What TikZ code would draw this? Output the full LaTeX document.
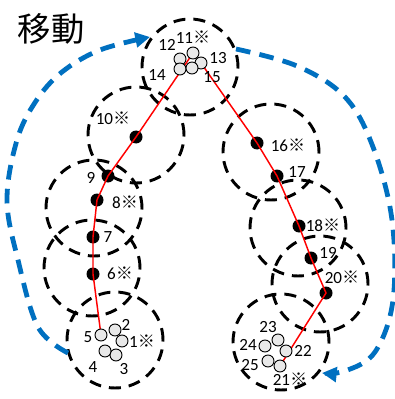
\documentclass[tikz,border=0pt]{standalone}
\usepackage{fontspec}
\setmainfont{Carlito}
\newfontfamily\cjk{Noto Sans CJK JP}
\usetikzlibrary{arrows.meta}
\definecolor{arrowblue}{RGB}{0,112,192}
\definecolor{ballgray}{RGB}{232,232,232}
\newcommand{\kome}{{\cjk ※}}
\begin{document}
\begin{tikzpicture}[x=0.75pt,y=-0.75pt,
  zone/.style={circle, draw=black, line width=2.2pt, dash pattern=on 9pt off 6pt, minimum size=72pt, inner sep=0pt},
  dot/.style={circle, fill=black, minimum size=9.75pt, inner sep=0pt},
  ball/.style={circle, draw=black, fill=ballgray, line width=0.7pt, minimum size=9pt, inner sep=0pt},
  redline/.style={red, line width=1.1pt},
  lbl/.style={font=\fontsize{12.8}{14}\selectfont, inner sep=0pt},
  move/.style={draw=arrowblue, line width=3.6pt, dash pattern=on 11pt off 7pt, -{Triangle[length=11pt,width=11pt]}}
]
\useasboundingbox (0,0) rectangle (395,399);

% title
\node[font=\cjk\fontsize{25}{28}\selectfont, inner sep=0pt] (title) at (51,29) {移動};

% dashed zones
\node[zone] (z1) at (190,67) {};
\node[zone] (z2) at (136,135) {};
\node[zone] (z3) at (94,208) {};
\node[zone] (z4) at (92,268) {};
\node[zone] (z5) at (115,340) {};
\node[zone] (z6) at (271,152) {};
\node[zone] (z7) at (298,228) {};
\node[zone] (z8) at (320,284) {};
\node[zone] (z9) at (281,342) {};

% dots
\node[dot] (d10) at (136,137) {};
\node[dot] (d9) at (108,176) {};
\node[dot] (d8) at (97,200) {};
\node[dot] (d7) at (93,237) {};
\node[dot] (d6) at (93,274) {};
\node[dot] (d16) at (257,143) {};
\node[dot] (d17) at (277,176) {};
\node[dot] (d18) at (299,226) {};
\node[dot] (d19) at (311,258) {};
\node[dot] (d20) at (326,293) {};

% coordinates of balls
\coordinate (p11) at (193,53);
\coordinate (p12) at (180,59);
\coordinate (p13) at (201,63);
\coordinate (p14) at (180,69);
\coordinate (p15) at (192,68);
\coordinate (p1) at (122,341);
\coordinate (p2) at (115,330);
\coordinate (p3) at (116,355);
\coordinate (p4) at (105,351);
\coordinate (p5) at (101,335);
\coordinate (p21) at (280,366);
\coordinate (p22) at (286,351);
\coordinate (p23) at (278,340);
\coordinate (p24) at (265,346);
\coordinate (p25) at (268,361);

% red route
\draw[redline] (p11) -- (d10.center) -- (d9.center) -- (d8.center) -- (d7.center) -- (d6.center) -- (p5);
\draw[redline] (p13) -- (d16.center) -- (d17.center) -- (d18.center) -- (d19.center) -- (d20.center) -- (p21);

% balls
\foreach \n in {11,12,13,14,15,1,2,3,4,5,21,22,23,24,25}
  \node[ball] (b\n) at (p\n) {};

% blue moves
\draw[move] plot[smooth, tension=0.6] coordinates {(68,353) (38,327) (18,260) (7,200) (17,140) (36,101) (62,72) (100,50) (150,37)};
\draw[move] plot[smooth, tension=0.6] coordinates {(236,49) (297,66) (345,97) (373,147) (392,220) (393,300) (375,352) (345,371) (322,373)};

% labels
\node[lbl] (l11) at (193,37) {11\kome};
\node[lbl] (l12) at (167,45) {12};
\node[lbl] (l13) at (218,58) {13};
\node[lbl] (l14) at (157,75) {14};
\node[lbl] (l15) at (212,77) {15};
\node[lbl] (l10) at (113,118) {10\kome};
\node[lbl] (l9) at (91,178) {9};
\node[lbl] (l8) at (125,202) {8\kome};
\node[lbl] (l7) at (108,237) {7};
\node[lbl] (l6) at (120,273) {6\kome};
\node[lbl] (l5) at (88,337) {5};
\node[lbl] (l2) at (126,325) {2};
\node[lbl] (l1) at (142,341) {1\kome};
\node[lbl] (l4) at (93,367) {4};
\node[lbl] (l3) at (124,369) {3};
\node[lbl] (l16) at (288,145) {16\kome};
\node[lbl] (l17) at (297,172) {17};
\node[lbl] (l18) at (323,225) {18\kome};
\node[lbl] (l19) at (328,253) {19};
\node[lbl] (l20) at (342,277) {20\kome};
\node[lbl] (l23) at (268,327) {23};
\node[lbl] (l24) at (248,345) {24};
\node[lbl] (l22) at (303,351) {22};
\node[lbl] (l25) at (250,365) {25};
\node[lbl] (l21) at (290,379) {21\kome};
\end{tikzpicture}
\end{document}
